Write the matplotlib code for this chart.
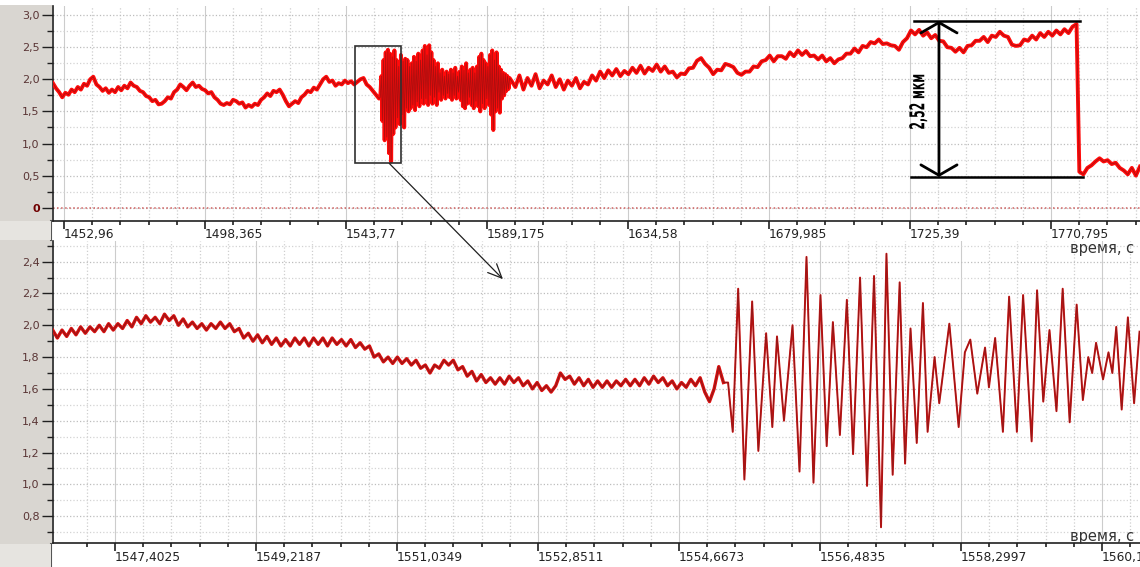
import numpy as np
import matplotlib.pyplot as plt
from matplotlib.patches import Rectangle, ConnectionPatch, PathPatch
from matplotlib.ticker import FixedLocator
from matplotlib.textpath import TextPath
from matplotlib.font_manager import FontProperties
from matplotlib.transforms import Affine2D, ScaledTranslation

# ---- top record (overview), sampled in segments: start time, step, values ----
top_a_t0, top_a_dt = 1449.4, 1.0
top_a_v = [1.94, 1.86, 1.80, 1.72, 1.79, 1.76, 1.84, 1.80, 1.88, 1.84,
           1.93, 1.90, 2.00, 2.04, 1.92, 1.88, 1.82, 1.86, 1.79, 1.84,
           1.80, 1.88, 1.83, 1.90, 1.86, 1.95, 1.90, 1.88, 1.82, 1.80,
           1.74, 1.72, 1.66, 1.68, 1.61, 1.62, 1.66, 1.72, 1.70, 1.80,
           1.84, 1.92, 1.88, 1.83, 1.90, 1.95, 1.88, 1.90, 1.85, 1.83,
           1.78, 1.80, 1.72, 1.68, 1.62, 1.60, 1.63, 1.61, 1.68, 1.66,
           1.62, 1.64, 1.56, 1.60, 1.57, 1.62, 1.60, 1.68, 1.72, 1.78,
           1.74, 1.82, 1.80, 1.84, 1.76, 1.66, 1.58, 1.62, 1.66, 1.63,
           1.72, 1.76, 1.82, 1.80, 1.87, 1.84, 1.92, 2.00, 2.04, 1.96,
           1.98, 1.90, 1.94, 1.92, 1.98, 1.94, 1.97, 1.92, 1.96, 2.00,
           2.02, 1.92, 1.88, 1.82, 1.76, 1.70]

top_b_t0, top_b_dt = 1554.8, 0.35
top_b_v = [1.72, 2.05, 1.35, 2.30, 1.05, 2.42, 1.10, 2.46, 0.85, 2.40,
           0.72, 2.35, 1.15, 2.45, 1.25, 2.30, 1.40, 2.20, 1.30, 2.38,
           1.45, 2.28, 1.25, 2.32, 1.55, 2.30, 1.50, 2.20, 1.55, 2.25,
           1.60, 2.35, 1.52, 2.28, 1.65, 2.40, 1.58, 2.30, 1.70, 2.45,
           1.62, 2.52, 1.70, 2.38, 1.60, 2.53, 1.75, 2.42, 1.62, 2.30,
           1.72, 2.20, 1.60, 2.25, 1.80, 2.10, 1.68, 2.15, 1.75, 2.05,
           1.70, 2.12, 1.78, 2.08, 1.72, 2.15, 1.68, 2.10, 1.75, 2.18,
           1.70, 2.05, 1.80, 2.12, 1.68, 2.20, 1.58, 2.14, 1.55, 2.25,
           1.62, 2.10, 1.72, 2.15, 1.60, 2.18, 1.55, 2.10, 1.66, 2.20,
           1.58, 2.35, 1.50, 2.40, 1.62, 2.30, 1.55, 2.25, 1.70, 2.20,
           1.60, 2.38, 1.45, 2.45, 1.21, 2.30, 1.50, 2.42, 1.55, 2.20,
           1.48, 2.15, 1.70, 2.10, 1.75, 2.08, 1.82, 2.05, 1.85, 2.02]

top_c_t0, top_c_dt = 1597.0, 1.3
top_c_v = [1.98, 1.88, 2.06, 1.84, 2.02, 1.90, 2.08, 1.86, 1.98, 1.92,
           2.06, 1.88, 2.00, 1.84, 1.98, 1.90, 2.02, 1.86, 1.96, 1.92,
           2.06, 1.98, 2.12, 2.02, 2.14, 2.06, 2.16, 2.05, 2.13, 2.08,
           2.18, 2.10, 2.21, 2.09, 2.18, 2.13, 2.23, 2.12, 2.20, 2.10,
           2.12, 2.03, 2.09, 2.08, 2.17, 2.18, 2.29, 2.33, 2.24, 2.18,
           2.08, 2.15, 2.14, 2.24, 2.22, 2.19, 2.10, 2.07, 2.12, 2.12,
           2.20, 2.19, 2.28, 2.30, 2.37, 2.28, 2.36, 2.36, 2.32, 2.42,
           2.36, 2.45, 2.38, 2.44, 2.36, 2.37, 2.31, 2.37, 2.28, 2.33,
           2.25, 2.31, 2.33, 2.40, 2.40, 2.48, 2.42, 2.52, 2.50, 2.58,
           2.56, 2.62, 2.55, 2.56, 2.53, 2.52, 2.46, 2.58, 2.64, 2.76,
           2.70, 2.77, 2.68, 2.73, 2.64, 2.69, 2.60, 2.59, 2.50, 2.49,
           2.43, 2.49, 2.42, 2.52, 2.53, 2.60, 2.60, 2.66, 2.58, 2.68,
           2.66, 2.74, 2.68, 2.66, 2.54, 2.52, 2.53, 2.62, 2.60, 2.68,
           2.62, 2.72, 2.66, 2.74, 2.68, 2.76, 2.70, 2.78, 2.72, 2.82,
           2.86]

top_d_t0, top_d_dt = 1779.9, 1.3
top_d_v = [0.56, 0.52, 0.62, 0.66, 0.72, 0.77, 0.72, 0.74, 0.68, 0.70,
           0.62, 0.58, 0.52, 0.62, 0.50, 0.64]

# ---- bottom record (zoomed window) ----
bot_a_t0, bot_a_dt = 1546.60, 0.06
bot_a_v = [1.97, 1.92, 1.97, 1.93, 1.98, 1.94, 1.99, 1.95, 1.99, 1.96,
           2.00, 1.96, 2.01, 1.97, 2.01, 1.98, 2.03, 1.99, 2.05, 2.01,
           2.06, 2.02, 2.05, 2.01, 2.07, 2.03, 2.06, 2.00, 2.04, 1.99,
           2.02, 1.98, 2.01, 1.97, 2.01, 1.98, 2.02, 1.98, 2.01, 1.96,
           1.98, 1.92, 1.95, 1.90, 1.94, 1.89, 1.93, 1.88, 1.92, 1.87,
           1.91, 1.87, 1.92, 1.88, 1.92, 1.87, 1.92, 1.88, 1.92, 1.87,
           1.92, 1.88, 1.91, 1.87, 1.91, 1.86, 1.89, 1.85, 1.87, 1.80,
           1.82, 1.77, 1.80, 1.76, 1.80, 1.76, 1.79, 1.75, 1.78, 1.73,
           1.75, 1.70, 1.75, 1.73, 1.78, 1.75, 1.78, 1.72, 1.74, 1.68,
           1.71, 1.65, 1.69, 1.64, 1.67, 1.63, 1.67, 1.63, 1.68, 1.64,
           1.67, 1.62, 1.65, 1.60, 1.64, 1.59, 1.62, 1.58, 1.62, 1.70,
           1.66, 1.68, 1.63, 1.67, 1.62, 1.66, 1.61, 1.65, 1.61, 1.65,
           1.61, 1.65, 1.62, 1.66, 1.62, 1.66, 1.62, 1.67, 1.63, 1.68,
           1.64, 1.67, 1.62, 1.65, 1.60, 1.64, 1.61, 1.66, 1.62, 1.67,
           1.58, 1.52, 1.60, 1.74, 1.64]

bot_osc_t = [1555.30, 1555.36, 1555.43, 1555.51, 1555.61, 1555.69, 1555.79, 1555.87,
             1555.93, 1556.02, 1556.13, 1556.22, 1556.31, 1556.40, 1556.49, 1556.57,
             1556.65, 1556.74, 1556.83, 1556.91, 1557.00, 1557.09, 1557.18, 1557.27,
             1557.34, 1557.42, 1557.51, 1557.58, 1557.65, 1557.73, 1557.81, 1557.87,
             1557.96, 1558.02, 1558.15, 1558.27, 1558.35, 1558.42, 1558.51, 1558.61,
             1558.66, 1558.74, 1558.84, 1558.92, 1559.02, 1559.10, 1559.21, 1559.28,
             1559.36, 1559.44, 1559.53, 1559.61, 1559.70, 1559.79, 1559.87, 1559.94,
             1559.99, 1560.04, 1560.13, 1560.20, 1560.25, 1560.30, 1560.37, 1560.45,
             1560.53, 1560.60]
bot_osc_v = [1.64, 1.33, 2.23, 1.03, 2.15, 1.21, 1.95, 1.36,
             1.93, 1.40, 2.00, 1.08, 2.43, 1.01, 2.19, 1.24,
             2.02, 1.31, 2.16, 1.19, 2.30, 0.99, 2.31, 0.73,
             2.45, 1.06, 2.27, 1.13, 1.98, 1.26, 2.14, 1.33,
             1.80, 1.51, 2.01, 1.36, 1.83, 1.91, 1.57, 1.86,
             1.61, 1.92, 1.33, 2.18, 1.33, 2.19, 1.27, 2.22,
             1.52, 1.97, 1.46, 2.23, 1.39, 2.13, 1.53, 1.80,
             1.70, 1.89, 1.66, 1.83, 1.70, 1.99, 1.47, 2.05,
             1.51, 1.96]

# axis ticks
top_xticks = [1452.96, 1498.365, 1543.77, 1589.175, 1634.58, 1679.985, 1725.39, 1770.795]
top_xlabels = ["1452,96", "1498,365", "1543,77", "1589,175", "1634,58", "1679,985", "1725,39", "1770,795"]
top_yticks = [0, 0.5, 1.0, 1.5, 2.0, 2.5, 3.0]
top_ylabels = ["0", "0,5", "1,0", "1,5", "2,0", "2,5", "3,0"]
bot_xticks = [1547.4025, 1549.2187, 1551.0349, 1552.8511, 1554.6673, 1556.4835, 1558.2997, 1560.1159]
bot_xlabels = ["1547,4025", "1549,2187", "1551,0349", "1552,8511", "1554,6673", "1556,4835", "1558,2997", "1560,1159"]
bot_yticks = [0.8, 1.0, 1.2, 1.4, 1.6, 1.8, 2.0, 2.2, 2.4]
bot_ylabels = ["0,8", "1,0", "1,2", "1,4", "1,6", "1,8", "2,0", "2,2", "2,4"]

# measured jump
jump_label = "2,52 мкм"


def seg(t0, dt, vals):
    return t0 + dt * np.arange(len(vals)), np.array(vals)


parts = [seg(top_a_t0, top_a_dt, top_a_v), seg(top_b_t0, top_b_dt, top_b_v),
         seg(top_c_t0, top_c_dt, top_c_v), seg(top_d_t0, top_d_dt, top_d_v)]
top_t = np.concatenate([p[0] for p in parts])
top_v = np.concatenate([p[1] for p in parts])

ba_t, ba_v = seg(bot_a_t0, bot_a_dt, bot_a_v)
bot_t = np.concatenate([ba_t, bot_osc_t])
bot_v = np.concatenate([ba_v, bot_osc_v])

plt.rcParams['font.family'] = ['DejaVu Sans']

W, H = 1140, 567
fig = plt.figure(figsize=(W / 100, H / 100), dpi=100, facecolor='white')

# grey label strip on the left, like the recorder window
fig.patches.append(Rectangle((0, 0), 52 / W, 1 - 5 / H, transform=fig.transFigure,
                             fc='#d9d6d1', ec='none', zorder=-2))
for y0, y1 in [(221, 240), (544, 567)]:
    fig.patches.append(Rectangle((0, 1 - y1 / H), 51 / W, (y1 - y0) / H, transform=fig.transFigure,
                                 fc='#e6e4e0', ec='none', zorder=-1))
    fig.lines.append(plt.Line2D([51 / W, 51 / W], [1 - y1 / H, 1 - y0 / H], transform=fig.transFigure,
                                color='#555555', lw=1.5, zorder=-1))

ax1 = fig.add_axes([53 / W, 1 - 220.7 / H, 1 - 53 / W, (220.7 - 6) / H])
ax2 = fig.add_axes([53 / W, 1 - 543 / H, 1 - 53 / W, (543 - 241) / H])
for ax in (ax1, ax2):
    ax.patch.set_alpha(0)

label_col = '#5a3535'


def style(ax, xt, xl, yt, yl, xminor_step, yminor_step, xlim, ylim):
    ax.set_xlim(*xlim)
    ax.set_ylim(*ylim)
    for s in ['top', 'right']:
        ax.spines[s].set_visible(False)
    for s in ['left', 'bottom']:
        ax.spines[s].set_color('#202020')
        ax.spines[s].set_linewidth(1.2)
    ax.xaxis.set_major_locator(FixedLocator(xt))
    ax.set_xticklabels(xl)
    ax.xaxis.set_minor_locator(FixedLocator(np.arange(xt[0] - xminor_step, xlim[1], xminor_step)))
    ax.yaxis.set_major_locator(FixedLocator(yt))
    ax.set_yticklabels(yl)
    ax.yaxis.set_minor_locator(FixedLocator(np.arange(yt[0] - 2 * yminor_step, ylim[1], yminor_step)))
    ax.tick_params(axis='x', which='major', length=5.5, width=1.2, pad=0, labelsize=8.8,
                   labelcolor='#222222', color='#202020')
    ax.tick_params(axis='x', which='minor', length=2.6, width=1.2, color='#202020')
    ax.tick_params(axis='y', which='major', length=8, width=1, pad=1.5, labelsize=8,
                   labelcolor=label_col, color='#202020')
    ax.tick_params(axis='y', which='minor', length=4.5, width=1, color='#202020')
    for lab in ax.get_xticklabels():
        lab.set_horizontalalignment('left')
    ax.grid(which='major', axis='x', color='#cccccc', ls='-', lw=0.8)
    ax.grid(which='minor', axis='x', color='#cfcfcf', ls=':', lw=0.9)
    ax.grid(which='major', axis='y', color='#bdbdbd', ls=':', lw=0.9)
    ax.grid(which='minor', axis='y', color='#d3d3d3', ls=':', lw=0.9)
    ax.set_axisbelow(True)


style(ax1, top_xticks, top_xlabels, top_yticks, top_ylabels, 45.405 / 5, 0.25,
      (1449.42, 1799.43), (-0.2025, 3.142))
style(ax2, bot_xticks, bot_xlabels, bot_yticks, bot_ylabels, 1.8162 / 5, 0.1,
      (1546.604, 1560.606), (0.631, 2.530))

zl = ax1.get_yticklabels()[0]
zl.set_fontweight('bold')
zl.set_color('#700000')
ax1.axhline(0, color='#d06060', ls=':', lw=1.1, zorder=1)

# traces
ax1.plot(top_t, top_v, color='#ff0a0a', lw=2.8, zorder=3)
ax1.plot(top_t, top_v, color='#9a1010', lw=0.6, alpha=0.8, zorder=3)
ax2.plot(ba_t, ba_v, color='#e01010', lw=2.4, zorder=3)
ax2.plot(bot_t, bot_v, color='#d01010', lw=1.4, zorder=3)
ax2.plot(bot_t, bot_v, color='#8a1a1a', lw=0.7, alpha=0.85, zorder=3)

# zoom window and arrow into the lower panel
ax1.add_patch(Rectangle((1546.67, 0.70), 1561.48 - 1546.67, 2.52 - 0.70, fill=False,
                        ec='#303030', lw=1.2, zorder=5))
con = ConnectionPatch(xyA=(1557.7, 0.69), coordsA=ax1.transData,
                      xyB=(1552.4, 2.29), coordsB=ax2.transData,
                      arrowstyle='->,head_length=1.0,head_width=0.45',
                      mutation_scale=10, color='#202020', lw=0.9, zorder=6)
fig.add_artist(con)

# jump measurement
ax1.plot([1726.7, 1780.1], [2.91, 2.91], color='black', lw=1.8, zorder=5)
ax1.plot([1725.7, 1781.1], [0.48, 0.48], color='black', lw=1.8, zorder=5)
ax1.annotate('', xy=(1734.7, 2.91), xytext=(1734.7, 0.48),
             arrowprops=dict(arrowstyle='<->,head_length=0.75,head_width=1.3',
                             mutation_scale=10, color='black', lw=2.0, shrinkA=0, shrinkB=0),
             zorder=5)

# narrow bold caption of the jump, drawn as a squeezed text path
tp = TextPath((0, 0), jump_label, size=10, prop=FontProperties(family='DejaVu Sans', weight='bold'))
bb = tp.get_extents()
sx = 54 / bb.width
sy = 18 / bb.height
tr = (Affine2D().translate(-(bb.x0 + bb.width / 2), -(bb.y0 + bb.height / 2))
      .scale(sx, sy).rotate_deg(90)
      + ScaledTranslation(1728.0, 1.65, ax1.transData))
ax1.add_artist(PathPatch(tp, transform=tr, fc='black', ec='none', zorder=6))

# axis captions
fig.text(1134 / W, 1 - 248 / H, 'время, с', ha='right', va='center', fontsize=10.5, color='#333333')
fig.text(1134 / W, 1 - 537 / H, 'время, с', ha='right', va='center', fontsize=10.5, color='#333333')

fig.savefig('out.png', dpi=100, facecolor='white')
